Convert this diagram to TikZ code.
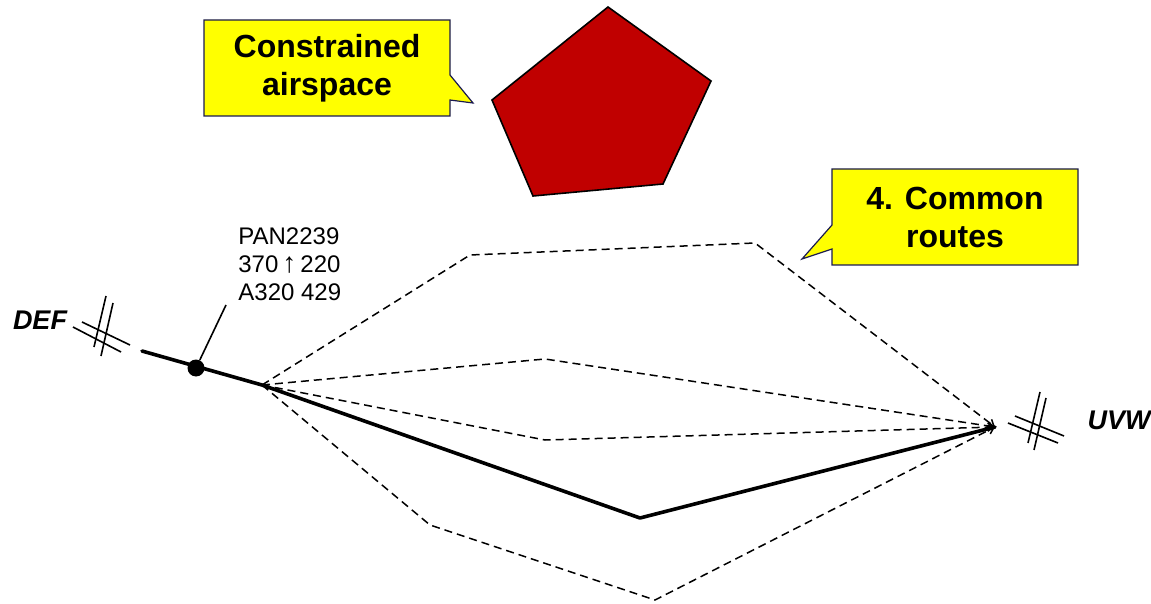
\documentclass[tikz,border=0pt]{standalone}
\usepackage{fontspec}
\setmainfont{Liberation Sans}
\usetikzlibrary{arrows.meta}

\definecolor{calloutfill}{HTML}{FFFF00}
\definecolor{calloutedge}{HTML}{1A1A50}
\definecolor{zonered}{HTML}{C00000}

\tikzset{
  callout/.style={fill=calloutfill, draw=calloutedge, line width=0.6pt, line join=miter},
  callouttext/.style={font=\bfseries\fontsize{16}{19}\selectfont, align=center, inner sep=0pt},
  route/.style={dashed, dash pattern=on 4pt off 2.5pt, line width=0.75pt,
    -{Straight Barb[length=3pt,width=4pt]}},
  flown/.style={line width=1.8pt, line cap=round, line join=round},
  fixmark/.style={line width=0.8pt},
  fixname/.style={font=\bfseries\itshape\fontsize{13.5}{16}\selectfont, inner sep=0pt},
  flightinfo/.style={font=\fontsize{12}{14}\selectfont, align=left, inner sep=0pt},
}

\begin{document}
\begin{tikzpicture}[x=0.5pt, y=-0.5pt]
\useasboundingbox (0,0) rectangle (1151,604);

% constrained airspace
\draw[fill=zonered, line width=0.8pt, line join=miter]
  (608,7) -- (711,81) -- (663,184) -- (533,196) -- (492,100) -- cycle;

% callout: constrained airspace
\draw[callout] (204,20) -- (450,20) -- (450,75) -- (473,103) -- (450,100)
  -- (450,116) -- (204,116) -- cycle;
\node[callouttext] (ca) at (327,68) {Constrained\\airspace};

% callout: common routes
\draw[callout] (832,169) -- (1078,169) -- (1078,265) -- (832,265) -- (832,249)
  -- (802,259) -- (832,225) -- cycle;
\node[callouttext] (cr) at (955,217) {4. Common\\routes};

% route points
\coordinate (entry) at (142,351);
\coordinate (split) at (262,385);
\coordinate (merge) at (995,427);
\coordinate (n1a) at (470,255);
\coordinate (n1b) at (755,243);
\coordinate (n2) at (545,359);
\coordinate (n3) at (545,440);
\coordinate (s1a) at (430,525);
\coordinate (s1b) at (655,600);
\coordinate (low) at (640,518);

% alternative common routes
\draw[route] (split) -- (n1a) -- (n1b) -- (merge);
\draw[route] (split) -- (n2) -- (merge);
\draw[route] (split) -- (n3) -- (merge);
\draw[route] (split) -- (s1a) -- (s1b) -- (merge);

% flown route
\draw[flown] (entry) -- (split) -- (low) -- (merge);

% aircraft and its label
\node[circle, fill=black, inner sep=0pt, minimum size=8.5pt] (ac) at (196,368) {};
\coordinate (lead) at (226,305);
\draw[line width=0.8pt] (ac) -- (lead);
\node[flightinfo, anchor=north west] (info) at (238,227)
  {PAN2239\\370\,{\fontsize{14}{14}\selectfont\bfseries↑}\,220\\A320 429};

% fix DEF
\draw[fixmark] (106,296) -- (94,347);
\draw[fixmark] (113,303) -- (101,356);
\draw[fixmark] (82,322) -- (130,345);
\draw[fixmark] (73,327) -- (121,352);
\node[fixname] (def) at (40,320) {DEF};

% fix UVW
\draw[fixmark] (1040,392) -- (1028,443);
\draw[fixmark] (1046,398) -- (1034,450);
\draw[fixmark] (1008,423) -- (1058,443);
\draw[fixmark] (1015,416) -- (1064,436);
\node[fixname] (uvw) at (1119,420) {UVW};
\end{tikzpicture}
\end{document}
